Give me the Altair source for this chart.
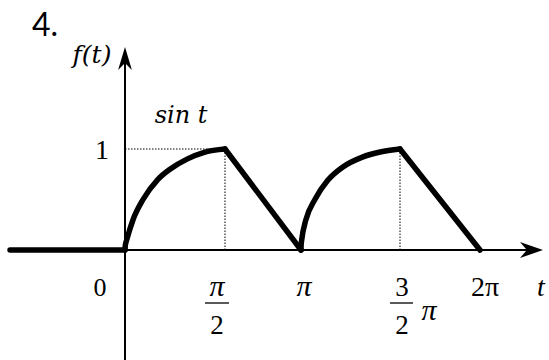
import math

import altair as alt
import pandas as pd

PI = math.pi

# ---- function pieces -------------------------------------------------------
# zero for t < 0
flat_t = [-1.806, 0.0]
flat_f = [0.0, 0.0]

# rising arc  (sin t) on [0, pi/2]
arc1_t = [0.0, 0.006, 0.027, 0.126, 0.283, 0.518, 0.707, 0.974, 1.257, 1.571]
arc1_f = [0.0, 0.05, 0.10, 0.30, 0.50, 0.70, 0.80, 0.90, 0.97, 1.0]

# straight descent on [pi/2, pi]
ramp1_t = [1.571, 3.142]
ramp1_f = [1.0, 0.0]

# second arc on [pi, 3pi/2]
arc2_t = [3.142, 3.144, 3.153, 3.220, 3.362, 3.566, 3.801, 4.116, 4.398, 4.712]
arc2_f = [0.0, 0.05, 0.10, 0.30, 0.50, 0.69, 0.82, 0.92, 0.97, 1.0]

# straight descent on [3pi/2, 2pi]
ramp2_t = [4.712, 6.283]
ramp2_f = [1.0, 0.0]

# axes extent and tick positions
axis_t = [-1.806, 7.52]
axis_f = [-1.09, 2.01]
tick_t = [0.0, PI / 2, PI, 3 * PI / 2, 2 * PI]
guide_t = [PI / 2, 3 * PI / 2]

SERIF = "Liberation Serif"
MATH = "DejaVu Serif"

# ---- scales ----------------------------------------------------------------
# piecewise scale: the arcs are drawn wider than the straight pieces
xs = alt.Scale(
    domain=[-PI / 2, 0, PI / 2, PI, 3 * PI / 2, 2 * PI, 5 * PI / 2],
    range=[25, 125, 225, 301, 400, 480, 560],
    nice=False,
    zero=False,
)
ys = alt.Scale(domain=[0, 1], range=[250, 149], nice=False, zero=False)

X = alt.X("t:Q", scale=xs, axis=None)
Y = alt.Y("f:Q", scale=ys, axis=None)


def frame(ts, fs, seg=None):
    d = pd.DataFrame({"t": ts, "f": fs})
    if seg is not None:
        d["seg"] = seg
    return d


straight = pd.concat(
    [frame(flat_t, flat_f, "a"), frame(ramp1_t, ramp1_f, "b"), frame(ramp2_t, ramp2_f, "c")]
)
arcs = pd.concat([frame(arc1_t, arc1_f, "a"), frame(arc2_t, arc2_f, "b")])

# ---- axes with arrowheads --------------------------------------------------
x_axis = alt.Chart(pd.DataFrame({"t": [axis_t[0]], "t2": [axis_t[1] - 0.3], "f": [0.0]})).mark_rule(
    color="black", strokeWidth=2
).encode(x=X, x2="t2:Q", y=Y)

y_axis = alt.Chart(pd.DataFrame({"t": [0.0], "f": [axis_f[0]], "f2": [axis_f[1] - 0.1]})).mark_rule(
    color="black", strokeWidth=2
).encode(x=X, y=Y, y2="f2:Q")

x_arrow = alt.Chart(pd.DataFrame({"t": [axis_t[1]], "f": [0.0]})).mark_point(
    shape="M0,0L-2,-0.7L-1.4,0L-2,0.7Z", size=529, filled=True, color="black", opacity=1, strokeWidth=0
).encode(x=X, y=Y)

y_arrow = alt.Chart(pd.DataFrame({"t": [0.0], "f": [axis_f[1]]})).mark_point(
    shape="M0,0L-0.6,2L0,1.4L0.6,2Z", size=529, filled=True, color="black", opacity=1, strokeWidth=0
).encode(x=X, y=Y)

# ---- dotted guides ---------------------------------------------------------
h_guide = alt.Chart(pd.DataFrame({"t": [0.0], "t2": [guide_t[0]], "f": [1.0]})).mark_rule(
    color="black", strokeWidth=1, strokeDash=[1.5, 1.5]
).encode(x=X, x2="t2:Q", y=Y)

v_guides = alt.Chart(pd.DataFrame({"t": guide_t, "f": [0.0, 0.0], "f2": [1.0, 1.0]})).mark_rule(
    color="black", strokeWidth=1, strokeDash=[1.5, 1.5]
).encode(x=X, y=Y, y2="f2:Q")

# ---- the function itself ---------------------------------------------------
straight_line = alt.Chart(straight).mark_line(
    color="black", strokeWidth=5.5, strokeCap="round", strokeJoin="round"
).encode(x=X, y=Y, detail="seg:N", order="t:Q")

arc_line = alt.Chart(arcs).mark_line(
    color="black", strokeWidth=5.5, strokeCap="round", interpolate="monotone"
).encode(x=X, y=Y, detail="seg:N", order="t:Q")


# ---- text ------------------------------------------------------------------
def label(t, f, txt, dx, dy, size=26, font=SERIF, style="normal"):
    return alt.Chart(pd.DataFrame({"t": [t], "f": [f], "txt": [txt]})).mark_text(
        dx=dx, dy=dy, fontSize=size, font=font, fontStyle=style,
        align="center", baseline="middle", color="black",
    ).encode(x=X, y=Y, text="txt:N")


def frac_bar(t, x0, x1, dy):
    return alt.Chart(pd.DataFrame({"t": [t], "f": [0.0]})).mark_rule(
        color="black", strokeWidth=1.3, xOffset=x0, x2Offset=x1, yOffset=dy, y2Offset=dy
    ).encode(x=X, x2="t:Q", y=Y)


texts = [
    label(tick_t[0], 0.0, "0", -25, 38),
    label(tick_t[1], 0.0, "π", -8, 37, size=30, style="italic"),
    frac_bar(tick_t[1], -20, 4, 53),
    label(tick_t[1], 0.0, "2", -8, 76, size=27),
    label(tick_t[2], 0.0, "π", 3, 37, size=30, style="italic"),
    label(tick_t[3], 0.0, "3", 2, 38, size=27),
    frac_bar(tick_t[3], -10, 13, 53),
    label(tick_t[3], 0.0, "2", 2, 76, size=27),
    label(tick_t[3], 0.0, "π", 29, 61, size=30, style="italic"),
    label(tick_t[4], 0.0, "2π", 5, 38, size=28),
    label(axis_t[1], 0.0, "t", -2, 38, size=28, style="italic"),
    label(0.0, 1.0, "1", -23, 2, size=28),
    label(0.0, 1.0, "sin t", 56, -33, size=24, font=MATH, style="italic"),
    label(0.0, axis_f[1], "f(t)", -33, 8, size=25, font=MATH, style="italic"),
]

title = alt.Chart(pd.DataFrame({"txt": ["4."]})).mark_text(
    fontSize=32, font="Lato", align="center", baseline="middle", color="black"
).encode(x=alt.value(45), y=alt.value(26), text="txt:N")

chart = alt.layer(
    h_guide, v_guides, x_axis, y_axis, straight_line, arc_line, x_arrow, y_arrow, *texts, title
).properties(
    width=549, height=360, padding=0, autosize="none", background="white"
).configure_view(stroke=None)

chart.save("out.html", embed_options={"renderer": "svg", "actions": False})
